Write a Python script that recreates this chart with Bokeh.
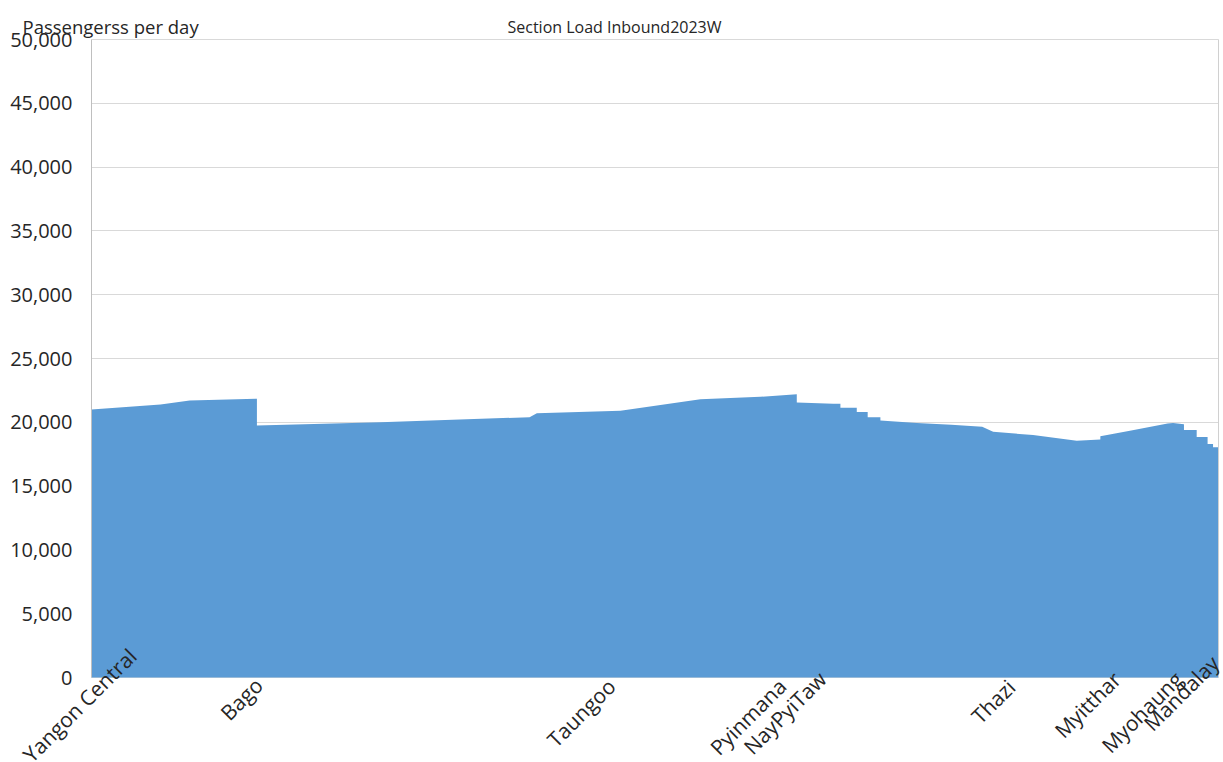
import math
from bokeh.plotting import figure
from bokeh.models import Range1d, Label, FixedTicker, NumeralTickFormatter, LinearAxis, Grid
from bokeh.embed import file_html
from bokeh.resources import INLINE

# Section load profile (km from Yangon Central, passengers per day)
profile_km = [0, 38, 54, 91, 91, 159, 241, 245, 291, 335, 368, 388, 388, 408, 412, 412,
              421, 421, 427, 427, 434, 434, 454, 473, 490, 496, 518, 542, 555, 555,
              572, 592, 595, 601, 601, 608, 608, 614, 614, 617, 617, 620]
profile_load = [21000, 21400, 21700, 21850, 19750, 20000, 20400, 20700, 20900, 21800, 22000, 22200,
                21550, 21450, 21450, 21150, 21150, 20800, 20800, 20400, 20400, 20150, 19950, 19800,
                19650, 19250, 19000, 18550, 18650, 18900, 19350, 19900, 19950, 19850, 19400, 19400,
                18850, 18850, 18300, 18300, 18050, 18050]

# station label positions along the line (km)
stations = ["Yangon Central", "Bago", "Taungoo", "Pyinmana", "NayPyiTaw", "Thazi",
            "Myitthar", "Myohaung", "Mandalay"]
station_km = [21.5, 91, 285, 379, 401, 505, 563, 597, 617]

y_ticks = [0, 5000, 10000, 15000, 20000, 25000, 30000, 35000, 40000, 45000, 50000]

title_text = "Section Load Inbound2023W"
ylabel_text = "Passengerss per day"

# ---- styling / layout ----
FONT = "Open Sans"
TXT = "#262626"
GRID = "#d9d9d9"
W, H = 1223, 762
PX_L, PX_R, PX_T, PX_B = 91, 1218, 39, 677      # plot-area edges in the page
KM0, KM1 = 0, 620
LOAD0, LOAD1 = 0, 50000
# vertical lift (px) of each rotated station name, like the staggered original
label_lift = {"Yangon Central": 35, "Bago": 6, "Taungoo": 5, "Pyinmana": 5, "NayPyiTaw": 12,
              "Thazi": 4, "Myitthar": 12, "Myohaung": 12, "Mandalay": 28}
LABEL_SHIFT_X = -8

kpp = (KM1 - KM0) / (PX_R - PX_L)
upp = (LOAD1 - LOAD0) / (PX_B - PX_T)
x_range = Range1d(KM0 - PX_L * kpp, KM1 + (W - PX_R) * kpp)
y_range = Range1d(LOAD0 - (H - PX_B) * upp, LOAD1 + PX_T * upp)

p = figure(width=W, height=H, output_backend="svg", toolbar_location=None,
           x_range=x_range, y_range=y_range,
           x_axis_location=None, y_axis_location=None,
           min_border=0, min_border_left=0, min_border_right=0,
           min_border_top=0, min_border_bottom=0)
p.outline_line_color = None
p.background_fill_color = "white"
p.border_fill_color = "white"
for g in list(p.xgrid) + list(p.ygrid):
    g.visible = False

# horizontal gridlines limited to the plot area
grid = Grid(dimension=1, ticker=FixedTicker(ticks=y_ticks), grid_line_color=GRID,
            bounds=(LOAD0, LOAD1))
if "cross_bounds" in grid.properties():
    grid.cross_bounds = (KM0, KM1)
    p.add_layout(grid, "center")
else:
    p.segment(x0=[KM0] * len(y_ticks), x1=[KM1] * len(y_ticks), y0=y_ticks, y1=y_ticks,
              line_color=GRID, line_width=1)

p.varea(x=profile_km, y1=[0] * len(profile_km), y2=profile_load, fill_color="#5B9BD5")

# value axis at km 0
ya = LinearAxis(fixed_location=KM0, bounds=(LOAD0, LOAD1),
                ticker=FixedTicker(ticks=y_ticks), formatter=NumeralTickFormatter(format="0,0"),
                axis_line_color="#bfbfbf", major_tick_out=0, major_tick_in=0,
                minor_tick_out=0, minor_tick_in=0, major_label_standoff=19,
                major_label_text_font=FONT, major_label_text_font_size="20px",
                major_label_text_color=TXT)
p.add_layout(ya, "left")

# right edge of the plot area
ra = LinearAxis(fixed_location=KM1, bounds=(LOAD0, LOAD1), ticker=FixedTicker(ticks=[]),
                axis_line_color="#d0d0d0", major_tick_out=0, major_tick_in=0,
                minor_tick_out=0, minor_tick_in=0, major_label_text_font_size="0px")
p.add_layout(ra, "right")

# rotated station names hanging below the zero line
for name, km in zip(stations, station_km):
    p.add_layout(Label(x=km, y=LOAD0, x_offset=LABEL_SHIFT_X, y_offset=label_lift[name], text=name,
                       angle=math.pi / 4, text_align="right", text_baseline="top",
                       text_font=FONT, text_font_size="21px", text_color=TXT))

# title and unit caption
p.add_layout(Label(x=614, y=H - 26, x_units="screen", y_units="screen", text=title_text,
                   text_align="center", text_baseline="middle",
                   text_font=FONT, text_font_size="16px", text_color=TXT))
p.add_layout(Label(x=22, y=H - 26, x_units="screen", y_units="screen", text=ylabel_text,
                   text_align="left", text_baseline="middle",
                   text_font=FONT, text_font_size="18.5px", text_color=TXT))

open("out.html", "w").write(file_html(p, INLINE))
